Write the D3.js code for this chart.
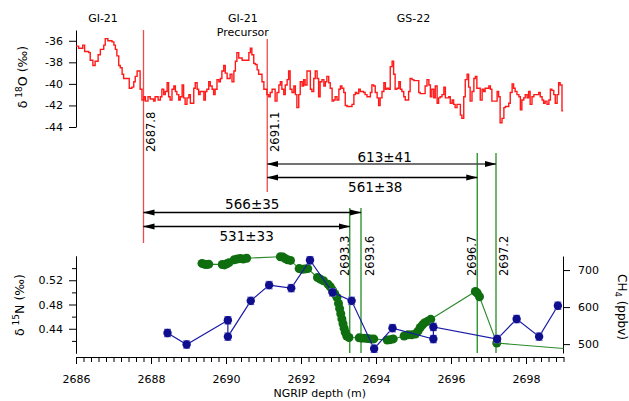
<!DOCTYPE html>
<html>
<head>
<meta charset="utf-8">
<style>
body { margin: 0; background: #fff; }
svg { font-family: "DejaVu Sans", sans-serif; }
.axis path, .axis line { stroke: #000; }
.axis text { font-size: 11px; fill: #000; font-family: "DejaVu Sans", sans-serif; }
.lbl { font-size: 11px; fill: #000; }
.arrowlbl { font-size: 13.5px; fill: #000; }
</style>
</head>
<body>
<svg width="629" height="401"></svg>
<script src="https://d3js.org/d3.v7.min.js"></script>
<script>

// d18O record (step series), depth in m, value in permil
var o18Depth = [2686.00,2686.07,2686.18,2686.23,2686.34,2686.38,2686.45,2686.51,2686.59,2686.65,2686.74,2686.78,2686.85,2686.96,
  2687.01,2687.05,2687.09,2687.14,2687.18,2687.23,2687.27,2687.42,2687.49,2687.54,2687.58,2687.63,2687.71,2687.76,2687.81,2687.85,
  2687.92,2687.98,2688.07,2688.11,2688.19,2688.25,2688.29,2688.34,2688.38,2688.43,2688.47,2688.51,2688.56,2688.61,2688.65,2688.69,
  2688.74,2688.78,2688.83,2688.87,2688.91,2688.96,2689.01,2689.05,2689.14,2689.18,2689.23,2689.27,2689.31,2689.41,2689.45,2689.49,
  2689.54,2689.58,2689.63,2689.67,2689.71,2689.76,2689.81,2689.85,2689.89,2689.94,2689.98,2690.03,2690.11,2690.16,2690.21,2690.25,
  2690.29,2690.34,2690.43,2690.61,2690.65,2690.69,2690.74,2690.78,2690.83,2690.87,2690.96,2691.01,2691.09,2691.14,2691.18,2691.23,
  2691.31,2691.36,2691.41,2691.45,2691.49,2691.54,2691.58,2691.63,2691.67,2691.71,2691.76,2691.81,2691.85,2691.89,2691.94,2691.98,
  2692.03,2692.07,2692.11,2692.16,2692.25,2692.29,2692.34,2692.38,2692.43,2692.47,2692.51,2692.56,2692.61,2692.65,2692.69,2692.74,
  2692.78,2692.83,2692.87,2692.91,2692.96,2693.01,2693.05,2693.09,2693.14,2693.18,2693.23,2693.36,2693.41,2693.45,2693.49,2693.54,
  2693.58,2693.67,2693.71,2693.76,2693.85,2693.89,2693.94,2693.98,2694.03,2694.07,2694.11,2694.16,2694.21,2694.25,2694.29,2694.34,
  2694.38,2694.43,2694.47,2694.51,2694.56,2694.61,2694.65,2694.69,2694.74,2694.78,2694.87,2694.91,2694.96,2695.01,2695.14,2695.18,
  2695.31,2695.36,2695.41,2695.45,2695.49,2695.54,2695.58,2695.63,2695.67,2695.71,2695.76,2695.81,2695.85,2695.94,2695.98,2696.03,
  2696.07,2696.11,2696.16,2696.25,2696.29,2696.34,2696.38,2696.43,2696.47,2696.51,2696.56,2696.61,2696.65,2696.69,2696.78,2696.83,
  2696.87,2696.91,2697.01,2697.05,2697.09,2697.23,2697.27,2697.31,2697.36,2697.41,2697.45,2697.54,2697.58,2697.63,2697.67,2697.71,
  2697.76,2697.81,2697.85,2697.89,2697.94,2697.98,2698.03,2698.07,2698.11,2698.16,2698.21,2698.34,2698.38,2698.43,2698.47,2698.51,
  2698.56,2698.61,2698.65,2698.69,2698.74,2698.78,2698.83,2698.87,2698.91,2698.96,2698.99];
var o18Value = [-36.5,-36.7,-36.4,-37.0,-37.1,-37.8,-38.3,-37.9,-37.3,-36.8,-36.4,-35.8,-36.0,-36.1,
  -36.4,-36.8,-37.4,-38.3,-38.5,-39.1,-39.5,-40.4,-40.3,-39.8,-39.3,-38.8,-40.5,-41.5,-41.2,-41.6,
  -41.2,-41.4,-41.6,-41.2,-41.5,-41.2,-40.5,-41.0,-40.7,-39.9,-41.2,-41.5,-40.5,-40.2,-40.7,-41.0,
  -41.5,-41.2,-40.1,-41.3,-41.9,-41.3,-41.0,-41.8,-40.4,-39.9,-40.5,-41.0,-40.7,-41.5,-40.7,-40.5,
  -39.8,-40.2,-40.5,-41.0,-40.5,-39.6,-39.8,-39.5,-38.8,-38.3,-39.0,-39.5,-39.1,-39.8,-38.8,-37.9,
  -37.1,-37.6,-37.8,-37.1,-36.7,-37.3,-38.1,-38.2,-38.7,-39.1,-39.8,-40.5,-41.0,-41.2,-40.8,-40.5,
  -41.6,-40.8,-40.1,-39.8,-40.5,-41.0,-40.1,-39.6,-38.8,-40.5,-40.8,-40.2,-41.0,-42.2,-41.0,-39.8,
  -40.2,-39.6,-40.1,-38.8,-40.5,-40.7,-39.5,-38.8,-39.5,-41.2,-39.8,-39.6,-40.2,-39.8,-39.3,-39.9,
  -40.4,-41.6,-41.5,-41.2,-41.5,-40.5,-40.2,-40.4,-40.8,-42.0,-42.1,-41.9,-41.0,-40.8,-40.9,-40.5,
  -40.7,-40.8,-41.0,-41.2,-40.8,-40.1,-40.2,-40.8,-41.3,-42.0,-41.3,-40.7,-39.9,-40.5,-40.4,-40.5,
  -38.4,-37.9,-39.1,-40.5,-40.4,-39.8,-40.5,-40.7,-41.2,-41.5,-40.7,-39.5,-39.6,-39.7,-40.8,-40.9,
  -40.2,-39.6,-40.1,-41.2,-40.5,-41.3,-40.2,-41.8,-41.3,-41.2,-41.0,-40.3,-41.3,-41.2,-41.8,-41.5,
  -41.9,-42.2,-41.9,-42.9,-43.2,-41.2,-39.6,-39.1,-40.3,-41.6,-40.7,-39.5,-39.3,-40.4,-41.5,-40.5,
  -40.7,-40.4,-40.2,-40.5,-41.6,-40.7,-41.2,-43.6,-43.2,-42.2,-42.1,-41.8,-40.8,-40.0,-40.4,-40.7,
  -41.0,-41.2,-42.4,-41.5,-41.3,-41.0,-41.3,-40.7,-41.9,-41.2,-41.0,-40.8,-41.2,-41.5,-41.8,-41.6,
  -41.9,-41.5,-40.5,-40.6,-41.0,-41.8,-41.0,-39.9,-40.1,-42.5,-42.5];

// d15N (blue, with error bars)
var n15Depth = [2688.44,2688.95,2690.05,2690.05,2690.66,2691.15,2691.74,2692.24,2692.84,2693.35,2693.95,2694.44,2695.53,2695.53,2697.23,2697.75,2698.35,2698.85];
var n15Value = [0.433,0.414,0.454,0.427,0.486,0.512,0.507,0.553,0.500,0.486,0.407,0.441,0.423,0.443,0.423,0.456,0.427,0.478];
var n15Err = [0.006,0.006,0.006,0.006,0.006,0.006,0.006,0.006,0.006,0.006,0.006,0.006,0.006,0.006,0.006,0.006,0.006,0.006];

// CH4 (green)
var ch4Depth = [2689.36,2689.42,2689.48,2689.54,2689.90,2689.96,2690.02,2690.08,2690.22,2690.30,2690.38,2690.46,2690.55,
  2691.45,2691.52,2691.58,2691.64,2691.72,2691.95,2692.02,2692.10,2692.18,2692.44,2692.52,2692.60,2692.72,2692.78,2692.84,
  2692.90,2692.96,2693.00,2693.03,2693.06,2693.09,2693.12,2693.15,2693.18,2693.22,2693.28,2693.55,2693.62,2693.70,2693.78,
  2693.86,2693.94,2694.30,2694.38,2694.46,2694.75,2694.85,2694.95,2695.05,2695.12,2695.18,2695.24,2695.30,2695.38,2695.46,
  2696.65,2696.70,2696.76,2697.22,2699.00];
var ch4Value = [718,716,715,716,715,714,717,720,728,730,731,730,732,
  736,735,731,728,726,704,702,703,704,680,675,671,662,655,646,
  636,626,610,596,582,568,555,543,532,522,518,517,516,516,515,
  514,514,511,512,514,522,525,525,527,535,545,552,558,562,567,
  642,638,628,503,488];

var redMarkers = [2687.8, 2691.1];
var greenMarkers = [2693.3, 2693.6, 2696.7, 2697.2];

var arrowFrom = [2691.1, 2691.1, 2687.8, 2687.8];
var arrowTo = [2697.2, 2696.7, 2693.6, 2693.3];
var arrowLabels = ["613±41", "561±38", "566±35", "531±33"];

var periodLabels = ["GI-21", "GI-21\nPrecursor", "GS-22"];
var periodCentre = [2686.72, 2690.45, 2695.0];

var o18Ticks = [-44, -42, -40, -38, -36];
var n15Ticks = [0.44, 0.48, 0.52];
var n15Minor = [0.42, 0.46, 0.50, 0.54];
var ch4Ticks = [500, 600, 700];
var depthTicks = [2686, 2688, 2690, 2692, 2694, 2696, 2698];

var svg = d3.select("svg");

var x = d3.scaleLinear().domain([2686, 2699]).range([76, 563.5]);
var yO = d3.scaleLinear().domain([-44, -35]).range([127, 30]);
var yN = d3.scaleLinear().domain([0.40, 0.56]).range([353, 256]);
var yC = d3.scaleLinear().domain([476, 738]).range([353, 256]);

svg.append("defs").append("marker")
    .attr("id", "head")
    .attr("markerUnits", "userSpaceOnUse")
    .attr("viewBox", "0 -4 12 8")
    .attr("refX", 11).attr("refY", 0)
    .attr("markerWidth", 12).attr("markerHeight", 8)
    .attr("orient", "auto-start-reverse")
  .append("path")
    .attr("d", "M0,-3L11.5,0L0,3Z")
    .attr("fill", "#000");

// axes
svg.append("g").attr("class", "axis")
    .attr("transform", "translate(76,0)")
    .call(d3.axisLeft(yO).tickValues(o18Ticks).tickSize(7).tickSizeOuter(0).tickPadding(6).tickFormat(function(d) { return String(d); }));

svg.append("g").attr("class", "axis")
    .attr("transform", "translate(76,0)")
    .call(d3.axisLeft(yN).tickValues(n15Ticks).tickSize(7).tickSizeOuter(0).tickPadding(6).tickFormat(d3.format(".2f")));
svg.append("g").attr("class", "axis")
    .attr("transform", "translate(76,0)")
    .call(d3.axisLeft(yN).tickValues(n15Minor).tickSize(4).tickSizeOuter(0).tickFormat(""));

svg.append("g").attr("class", "axis")
    .attr("transform", "translate(563,0)")
    .call(d3.axisRight(yC).tickValues(ch4Ticks).tickSize(7).tickSizeOuter(0).tickPadding(8));

var minorDepth = d3.range(0, 66).map(function(i) { return 2686 + i * 0.2; });
svg.append("g").attr("class", "axis")
    .attr("transform", "translate(0,357)")
    .call(d3.axisBottom(x).tickValues(minorDepth).tickSize(5).tickSizeOuter(0).tickFormat(""));
svg.append("g").attr("class", "axis")
    .attr("transform", "translate(0,357)")
    .call(d3.axisBottom(x).tickValues(depthTicks).tickSize(7).tickSizeOuter(0).tickPadding(11).tickFormat(d3.format("d")));

// axis titles
svg.append("text").attr("class", "lbl")
    .attr("text-anchor", "middle")
    .attr("x", x(2692.5)).attr("y", 396.5)
    .text("NGRIP depth (m)");

var t1 = svg.append("text").attr("class", "lbl").style("font-size", "12.5px")
    .attr("text-anchor", "middle")
    .attr("transform", "translate(27,77) rotate(-90)");
t1.append("tspan").text("δ");
t1.append("tspan").attr("dy", -5).style("font-size", "9px").text(" 18");
t1.append("tspan").attr("dy", 5).text("O (‰)");

var t2 = svg.append("text").attr("class", "lbl").style("font-size", "12.5px")
    .attr("text-anchor", "middle")
    .attr("transform", "translate(24,305) rotate(-90)");
t2.append("tspan").text("δ");
t2.append("tspan").attr("dy", -5).style("font-size", "9px").text(" 15");
t2.append("tspan").attr("dy", 5).text("N (‰)");

var t3 = svg.append("text").attr("class", "lbl").style("font-size", "12px")
    .attr("text-anchor", "middle")
    .attr("transform", "translate(618,307) rotate(90)");
t3.append("tspan").text("CH");
t3.append("tspan").attr("dy", 3).style("font-size", "8.5px").text("4");
t3.append("tspan").attr("dy", -3).text(" (ppbv)");

// period labels
periodLabels.forEach(function(s, i) {
  s.split("\n").forEach(function(part, j) {
    svg.append("text").attr("class", "lbl")
        .attr("text-anchor", "middle")
        .attr("x", x(periodCentre[i])).attr("y", 21.5 + j * 14)
        .text(part);
  });
});

// marker lines
var redTop = [30, 39], redBottom = [243, 192];
redMarkers.forEach(function(d, i) {
  svg.append("line")
      .attr("x1", x(d)).attr("x2", x(d))
      .attr("y1", redTop[i]).attr("y2", redBottom[i])
      .attr("stroke", "#f24a4a").attr("stroke-width", 1.3);
  svg.append("text").attr("class", "lbl").style("font-size", "11.5px")
      .attr("transform", "translate(" + (x(d) + 11.5) + ",152) rotate(-90)")
      .text(d.toFixed(1));
});

var greenTop = [208, 208, 153, 153];
var greenSide = [-1, 12.5, -1, 11.5];
greenMarkers.forEach(function(d, i) {
  svg.append("line")
      .attr("x1", x(d)).attr("x2", x(d))
      .attr("y1", greenTop[i]).attr("y2", 353)
      .attr("stroke", "#238c23").attr("stroke-width", 1.3);
  svg.append("text").attr("class", "lbl").style("font-size", "11.5px")
      .attr("transform", "translate(" + (x(d) + greenSide[i]) + ",276) rotate(-90)")
      .text(d.toFixed(1));
});

// duration arrows
var arrowY = [164, 177.5, 212.5, 226.5];
var labelY = [161.5, 191.5, 209, 240.5];
arrowLabels.forEach(function(s, i) {
  svg.append("line")
      .attr("x1", x(arrowFrom[i])).attr("x2", x(arrowTo[i]))
      .attr("y1", arrowY[i]).attr("y2", arrowY[i])
      .attr("stroke", i === 0 ? "#444" : "#000").attr("stroke-width", 1.3)
      .attr("marker-start", "url(#head)")
      .attr("marker-end", "url(#head)");
  svg.append("text").attr("class", "arrowlbl")
      .attr("text-anchor", "middle")
      .attr("x", (x(arrowFrom[i]) + x(arrowTo[i])) / 2 + (i < 2 ? 3 : 0))
      .attr("y", labelY[i])
      .text(s);
});

// d18O step line
var o18 = o18Depth.map(function(d, i) { return [d, o18Value[i]]; });
svg.append("path")
    .datum(o18)
    .attr("fill", "none")
    .attr("stroke", "#ff1a1a")
    .attr("stroke-width", 1.4)
    .attr("d", d3.line().x(function(d) { return x(d[0]); }).y(function(d) { return yO(d[1]); }).curve(d3.curveStepAfter));

// CH4
var ch4 = ch4Depth.map(function(d, i) { return [d, ch4Value[i]]; });
svg.append("path")
    .datum(ch4)
    .attr("fill", "none")
    .attr("stroke", "#2a8a2a")
    .attr("stroke-width", 1.1)
    .attr("d", d3.line().x(function(d) { return x(d[0]); }).y(function(d) { return yC(d[1]); }));
svg.append("g").selectAll("circle")
    .data(ch4.slice(0, ch4.length - 1))
    .enter().append("circle")
      .attr("cx", function(d) { return x(d[0]); })
      .attr("cy", function(d) { return yC(d[1]); })
      .attr("r", 4.5)
      .attr("fill", "#0f6e0f");

// d15N
var n15 = n15Depth.map(function(d, i) { return [d, n15Value[i], n15Err[i]]; });
svg.append("path")
    .datum(n15)
    .attr("fill", "none")
    .attr("stroke", "#1a1aa6")
    .attr("stroke-width", 1.2)
    .attr("d", d3.line().x(function(d) { return x(d[0]); }).y(function(d) { return yN(d[1]); }));
var eb = svg.append("g").attr("stroke", "#6f6fc9").attr("stroke-width", 1.3);
n15.forEach(function(d) {
  var cx = x(d[0]), lo = yN(d[1] - d[2]), hi = yN(d[1] + d[2]);
  eb.append("line").attr("x1", cx).attr("x2", cx).attr("y1", lo).attr("y2", hi);
  eb.append("line").attr("x1", cx - 3.5).attr("x2", cx + 3.5).attr("y1", lo).attr("y2", lo);
  eb.append("line").attr("x1", cx - 3.5).attr("x2", cx + 3.5).attr("y1", hi).attr("y2", hi);
});
svg.append("g").selectAll("circle")
    .data(n15)
    .enter().append("circle")
      .attr("cx", function(d) { return x(d[0]); })
      .attr("cy", function(d) { return yN(d[1]); })
      .attr("r", 4.2)
      .attr("fill", "#0e0e8e");

</script>
</body>
</html>
